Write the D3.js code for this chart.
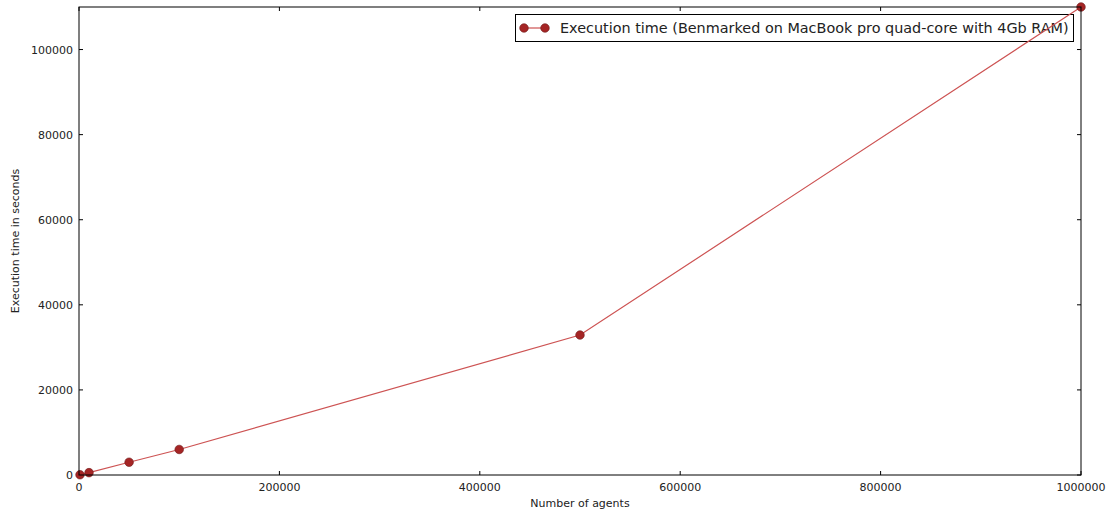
<!DOCTYPE html>
<html><head><meta charset="utf-8">
<script src="https://cdn.jsdelivr.net/npm/d3@7"></script>
<style>body{margin:0;background:#fff;} svg{display:block;font-family:"DejaVu Sans",sans-serif;}</style>
</head><body>
<svg id="c" width="1111" height="511"></svg>
<script>
const agents = [1000, 10000, 50000, 100000, 500000, 1000000];
const seconds = [60, 550, 3000, 6000, 32900, 110000];
const xTicks = [0, 200000, 400000, 600000, 800000, 1000000];
const yTicks = [0, 20000, 40000, 60000, 80000, 100000];
const seriesName = "Execution time (Benmarked on MacBook pro quad-core with 4Gb RAM)";

const svg = d3.select("#c");
const L = 79, R = 1081, T = 7, B = 475;
const x = d3.scaleLinear().domain([0, 1000000]).range([L, R]);
const y = d3.scaleLinear().domain([0, 110000]).range([B, T]);

const tick = 4;
const g = svg.append("g");
xTicks.forEach(v => {
  g.append("line").attr("x1", x(v)).attr("x2", x(v)).attr("y1", B).attr("y2", B - tick).attr("stroke", "#000");
  g.append("line").attr("x1", x(v)).attr("x2", x(v)).attr("y1", T).attr("y2", T + tick).attr("stroke", "#000");
  g.append("text").attr("x", x(v)).attr("y", B + 16).attr("text-anchor", "middle").attr("font-size", 11).attr("fill", "#222").text(v);
});
yTicks.forEach(v => {
  g.append("line").attr("y1", y(v)).attr("y2", y(v)).attr("x1", L).attr("x2", L + tick).attr("stroke", "#000");
  g.append("line").attr("y1", y(v)).attr("y2", y(v)).attr("x1", R).attr("x2", R - tick).attr("stroke", "#000");
  g.append("text").attr("x", L - 6).attr("y", y(v) + 4).attr("text-anchor", "end").attr("font-size", 11).attr("fill", "#222").text(v);
});

// legend (drawn under the data line, as in the reference)
const lg = svg.append("g");
lg.append("rect").attr("x", 515.5).attr("y", 14.5).attr("width", 558).attr("height", 27).attr("fill", "#fff").attr("stroke", "#000");
lg.append("line").attr("x1", 524).attr("x2", 545).attr("y1", 28).attr("y2", 28).attr("stroke", "#cd5353").attr("stroke-width", 1.2);
[524, 545].forEach(cx => lg.append("circle").attr("cx", cx).attr("cy", 28).attr("r", 4.3).attr("fill", "#a52525").attr("stroke", "#6e1a1a").attr("stroke-width", 0.6));
lg.append("text").attr("x", 560).attr("y", 33).attr("font-size", 14.4).attr("fill", "#222").text(seriesName);

const line = d3.line().x((d, i) => x(agents[i])).y(d => y(d));
svg.append("path").datum(seconds).attr("d", line).attr("fill", "none").attr("stroke", "#cd5353").attr("stroke-width", 1.2);
svg.selectAll("circle.pt").data(seconds).enter().append("circle")
  .attr("cx", (d, i) => x(agents[i])).attr("cy", d => y(d)).attr("r", 4.3)
  .attr("fill", "#a52525").attr("stroke", "#6e1a1a").attr("stroke-width", 0.6);

svg.append("rect").attr("x", L).attr("y", T).attr("width", R - L).attr("height", B - T)
  .attr("fill", "none").attr("stroke", "#000").attr("stroke-width", 1);

svg.append("text").attr("x", (L + R) / 2).attr("y", 507).attr("text-anchor", "middle").attr("font-size", 11).attr("fill", "#222").text("Number of agents");
svg.append("text").attr("transform", `translate(19,${(T + B) / 2}) rotate(-90)`).attr("text-anchor", "middle").attr("font-size", 11).attr("fill", "#222").text("Execution time in seconds");
</script>
</body></html>
